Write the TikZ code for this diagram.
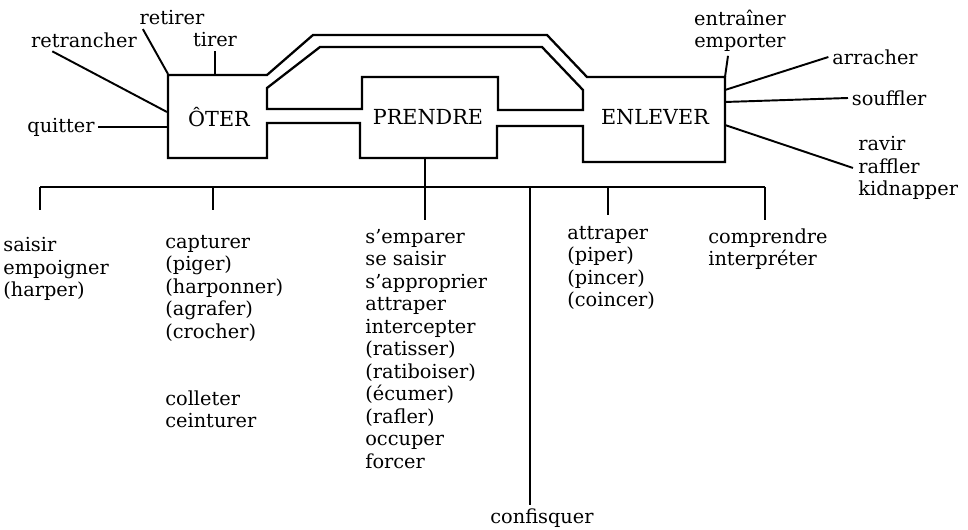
\documentclass[tikz,border=0pt]{standalone}
\usepackage{fontspec}
\setmainfont{DejaVu Serif}
\tikzset{
	word/.style={inner sep=2pt, font=\fontsize{11}{12.8}\selectfont},
	title/.style={inner sep=2pt, font=\fontsize{11.8}{13}\selectfont},
	column/.style={word, align=left, anchor=north west, inner sep=0pt},
	tube/.style={line width=1.3pt, line join=miter},
	link/.style={line width=1.1pt},
}
\begin{document}
\begin{tikzpicture}[x=0.02cm, y=-0.02cm]
	\useasboundingbox (0,0) rectangle (968,530);
	\draw [tube] (168,75) -- (267,75) -- (313,35) -- (547,35) -- (587,77) -- (725,77) -- (725,162) -- (583,162) -- (583,126) -- (497,126) -- (497,158) -- (360,158) -- (360,123) -- (267,123) -- (267,158) -- (168,158) -- cycle;
	\draw [tube] (267,88) -- (320,47) -- (542,47) -- (583,90) -- (583,110) -- (498,110) -- (498,77) -- (362,77) -- (362,109) -- (267,109) -- cycle;
	\node [title] (oter) at (219,117) {ÔTER};
	\node [title] (prendre) at (428,117) {PRENDRE};
	\node [title] (enlever) at (655,117) {ENLEVER};
	\coordinate (oterNW) at (168,74);
	\coordinate (oterW) at (167,112);
	\coordinate (enleverNE) at (725,77);
	\coordinate (prendreS) at (425,158);
	\node [word] (retrancher) at (84,40) {retrancher};
	\node [word] (retirer) at (172,18) {retirer};
	\node [word] (tirer) at (215,40) {tirer};
	\node [word] (quitter) at (61,127) {quitter};
	\draw [link] ([xshift=0.5cm]retrancher.south west) -- (oterW);
	\draw [link] ([xshift=0.14cm]retirer.south west) -- (oterNW);
	\draw [link] (tirer.south) -- (tirer.south |- oterNW);
	\draw [link] (quitter.east) -- (quitter.east -| oterNW);
	\node [word, align=center] (entrainer) at (740,31) {entraîner\\emporter};
	\node [word] (arracher) at (875,57) {arracher};
	\node [word, anchor=west] (souffler) at (848,98) {souffler};
	\node [column] (ravir) at (858,136) {ravir\\raffler\\kidnapper};
	\draw [link] ([xshift=-0.24cm]entrainer.south) -- (enleverNE);
	\draw [link] (arracher.west) -- ([yshift=-0.26cm]enleverNE);
	\draw [link] (souffler.west) -- ([yshift=-0.5cm]enleverNE);
	\draw [link] ([xshift=-0.1cm]ravir.west) -- ([yshift=-0.96cm]enleverNE);
	\coordinate (bl) at (40,187);
	\coordinate (br) at (765,187);
	\coordinate (cf) at (530,187);
	\draw [link] (bl) -- (br);
	\foreach \x/\d in {40/23, 213/23, 608/28, 765/33}
		\draw [link] (\x,187) -- ++(0,\d);
	\draw [link] (prendreS) -- ++(0,62);
	\node [column] (saisir) at (3,237) {saisir\\empoigner\\(harper)};
	\node [column] (capturer) at (165,235) {capturer\\(piger)\\(harponner)\\(agrafer)\\(crocher)};
	\node [column] (colleter) at (165,390) {colleter\\ceinturer};
	\node [column] (semparer) at (365,229) {s’emparer\\se saisir\\s’approprier\\attraper\\intercepter\\(ratisser)\\(ratiboiser)\\(écumer)\\(rafler)\\occuper\\forcer};
	\node [column] (attraper) at (567,226) {attraper\\(piper)\\(pincer)\\(coincer)};
	\node [column] (comprendre) at (708,228) {comprendre\\interpréter};
	\node [word, anchor=north] (confisquer) at (542,505) {confisquer};
	\draw [link] (cf) -- (cf |- confisquer.north);
\end{tikzpicture}
\end{document}
